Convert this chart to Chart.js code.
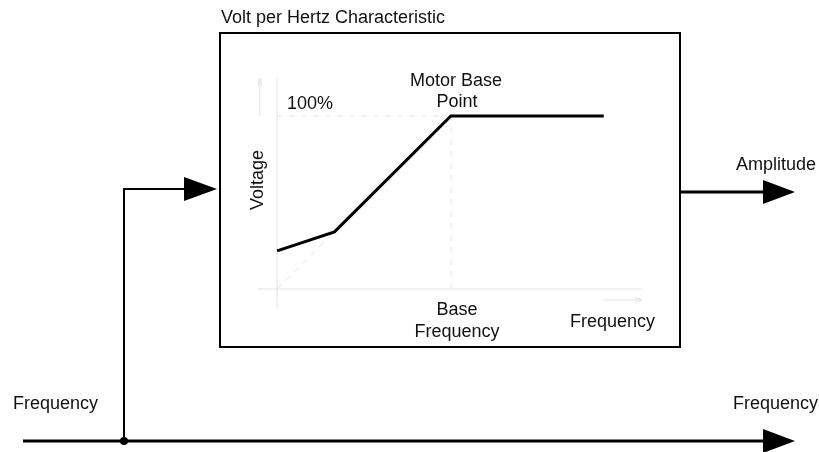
<!DOCTYPE html>
<html>
<head>
<meta charset="utf-8">
<title>Volt per Hertz Characteristic</title>
<script src="https://cdn.jsdelivr.net/npm/chart.js@4.4.1/dist/chart.umd.min.js"></script>
<style>
  html, body { margin: 0; padding: 0; background: #fff; }
  canvas { display: block; }
</style>
</head>
<body>
<canvas id="myChart" width="819" height="452"></canvas>
<script>
// V/Hz Kennlinie (Frequenz und Spannung in % der Motor-Basiswerte)
const freqPct = [0, 33, 100, 188];
const voltPct = [22, 33, 100, 100];

// Hilfslinien (gestrichelt)
const guideRatedX = [0, 100];   // 100% Linie
const guideRatedY = [100, 100];
const guideBaseX = [100, 100];  // Basisfrequenz
const guideBaseY = [0, 100];
const guideDiagX = [0, 33];     // Diagonale durch den Knick
const guideDiagY = [0, 33];

// Achsen (sehr hell)
const xAxisX = [-11, 210];
const xAxisY = [0, 0];
const yAxisX = [0, 0];
const yAxisY = [-11, 122];
const xArrowX = [188, 210, 206, 210, 206];
const xArrowY = [-6.4, -6.4, -4.8, -6.4, -8];
const yArrowX = [-10, -10, -11.2, -10, -8.8];
const yArrowY = [100, 122, 117, 122, 117];

const xRange = [-11, 210];
const yRange = [-11, 122];

const FONT = '18px "Liberation Sans", Arial, sans-serif';

function pts(xs, ys) {
    return xs.map((x, i) => ({ x: x, y: ys[i] }));
}

function faint(data, dash) {
    return {
        data: data,
        borderColor: '#e4e4e4',
        borderWidth: 1,
        borderDash: dash || [],
        pointRadius: 0,
        tension: 0,
        fill: false
    };
}

// Blockschaltbild rundherum (Kasten, Pfeile, Beschriftung)
const diagramPlugin = {
    id: 'diagram',
    beforeDraw(chart) {
        const ctx = chart.ctx;
        ctx.save();
        ctx.fillStyle = '#fff';
        ctx.fillRect(0, 0, chart.width, chart.height);
        ctx.restore();
    },
    afterDraw(chart) {
        const ctx = chart.ctx;
        ctx.save();
        ctx.strokeStyle = '#000';
        ctx.fillStyle = '#000';
        ctx.lineCap = 'butt';

        // Kasten
        ctx.lineWidth = 2;
        ctx.strokeRect(220, 33, 460, 314);

        function arrowHead(tipX, y, len, half) {
            ctx.beginPath();
            ctx.moveTo(tipX, y);
            ctx.lineTo(tipX - len, y - half);
            ctx.lineTo(tipX - len, y + half);
            ctx.closePath();
            ctx.fill();
        }

        ctx.lineWidth = 3;
        // Frequenz-Leitung unten
        ctx.beginPath();
        ctx.moveTo(23, 441);
        ctx.lineTo(770, 441);
        ctx.stroke();
        arrowHead(795, 441, 32, 12);

        // Abzweig zum Kasten
        ctx.lineWidth = 2;
        ctx.beginPath();
        ctx.moveTo(124, 441);
        ctx.lineTo(124, 189);
        ctx.lineTo(190, 189);
        ctx.stroke();
        arrowHead(217, 189, 33, 12);
        ctx.beginPath();
        ctx.arc(124, 441, 4, 0, Math.PI * 2);
        ctx.fill();

        // Amplitude Ausgang
        ctx.lineWidth = 3;
        ctx.beginPath();
        ctx.moveTo(680, 192);
        ctx.lineTo(770, 192);
        ctx.stroke();
        arrowHead(795, 192, 32, 12);

        // Texte
        ctx.font = FONT;
        ctx.textBaseline = 'alphabetic';
        ctx.fillStyle = '#111';
        ctx.textAlign = 'left';
        ctx.fillText('Volt per Hertz Characteristic', 221, 23);
        ctx.fillText('Amplitude', 736, 170);
        ctx.fillText('Frequency', 13, 409);
        ctx.fillText('Frequency', 733, 409);
        ctx.fillText('100%', 287, 109);
        ctx.fillText('Frequency', 570, 327);
        ctx.textAlign = 'center';
        ctx.fillText('Motor Base', 456, 86);
        ctx.fillText('Point', 457, 107);
        ctx.fillText('Base', 457, 315);
        ctx.fillText('Frequency', 457, 337);

        ctx.save();
        ctx.translate(263, 180);
        ctx.rotate(-Math.PI / 2);
        ctx.textAlign = 'center';
        ctx.fillText('Voltage', 0, 0);
        ctx.restore();

        ctx.restore();
    }
};

const config = {
    type: 'line',
    data: {
        datasets: [
            {
                label: 'V/Hz',
                data: pts(freqPct, voltPct),
                borderColor: '#000',
                borderWidth: 3,
                pointRadius: 0,
                tension: 0,
                fill: false,
                order: 0
            },
            faint(pts(guideRatedX, guideRatedY), [6, 6]),
            faint(pts(guideBaseX, guideBaseY), [6, 6]),
            faint(pts(guideDiagX, guideDiagY), [6, 6]),
            faint(pts(xAxisX, xAxisY)),
            faint(pts(yAxisX, yAxisY)),
            faint(pts(xArrowX, xArrowY)),
            faint(pts(yArrowX, yArrowY))
        ]
    },
    options: {
        responsive: false,
        animation: false,
        events: [],
        layout: {
            padding: { left: 258, right: 177, top: 78, bottom: 144 }
        },
        scales: {
            x: { type: 'linear', min: xRange[0], max: xRange[1], display: false },
            y: { type: 'linear', min: yRange[0], max: yRange[1], display: false }
        },
        plugins: {
            legend: { display: false },
            tooltip: { enabled: false },
            title: { display: false }
        }
    },
    plugins: [diagramPlugin]
};

const ctx = document.querySelector('#myChart').getContext('2d');
new Chart(ctx, config);
</script>
</body>
</html>
